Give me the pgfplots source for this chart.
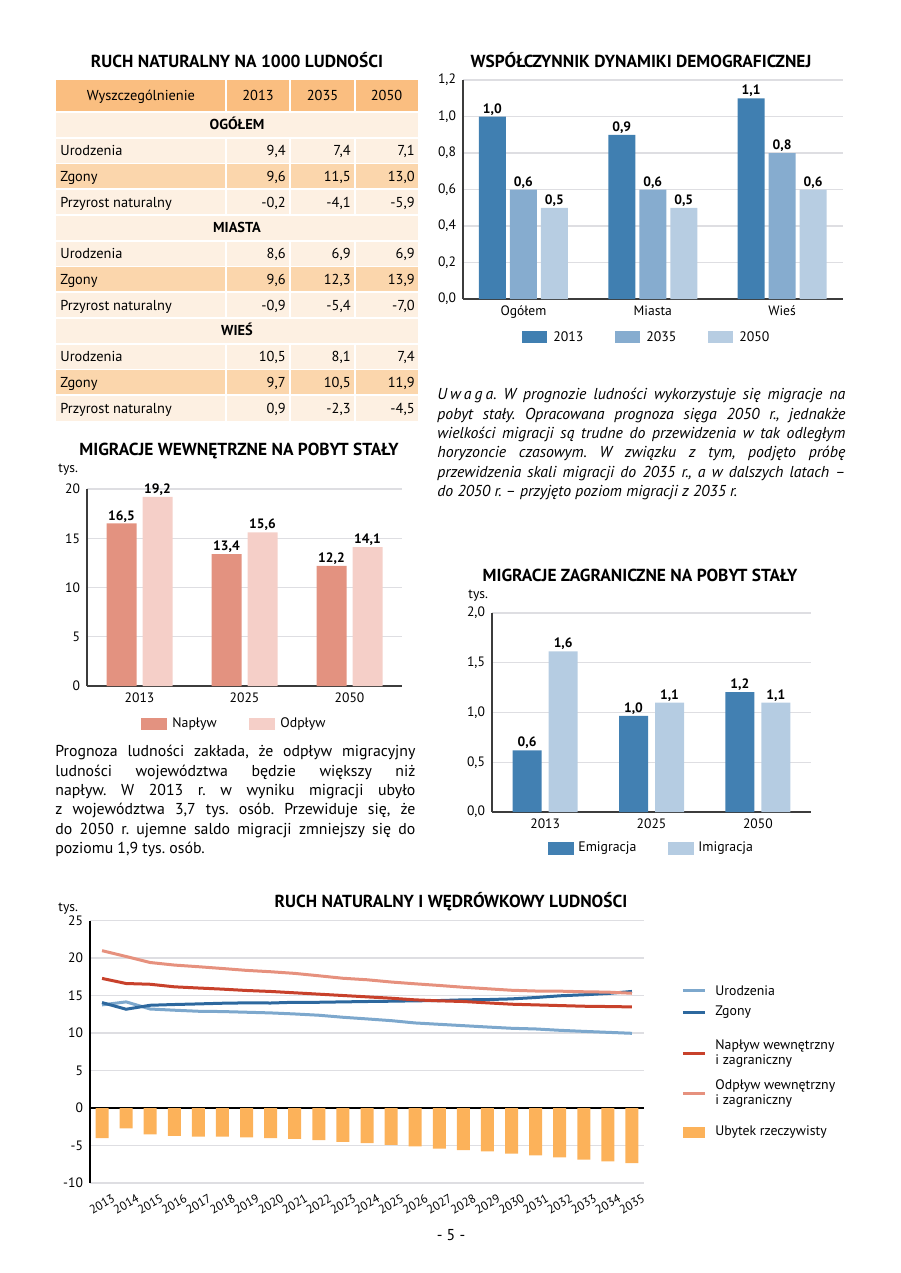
\documentclass[border=0pt]{standalone}
\usepackage{fontspec}
\setmainfont{PT Sans}
\usepackage{pgfplots}
\pgfplotsset{compat=1.18}
\frenchspacing
\definecolor{hdr}{RGB}{250,190,128}
\definecolor{rowl}{RGB}{253,240,226}
\definecolor{rowd}{RGB}{251,214,172}
\definecolor{bA}{RGB}{64,127,177}
\definecolor{bB}{RGB}{134,172,207}
\definecolor{bC}{RGB}{183,205,226}
\definecolor{napl}{RGB}{227,146,128}
\definecolor{odpl}{RGB}{245,207,200}
\definecolor{emig}{RGB}{66,128,178}
\definecolor{imig}{RGB}{181,204,226}
\definecolor{lUr}{RGB}{125,168,205}
\definecolor{lZg}{RGB}{45,104,158}
\definecolor{lNa}{RGB}{200,65,43}
\definecolor{lOd}{RGB}{230,145,126}
\definecolor{ubyt}{RGB}{252,178,90}
\definecolor{gridg}{RGB}{222,222,226}
\definecolor{axg}{RGB}{60,60,60}
\newcommand\ttl{\bfseries\fontsize{8.7}{9.5}\selectfont}
\newcommand\tbl{\fontsize{7.2}{8}\selectfont}
\newcommand\tck{\fontsize{6.8}{7.5}\selectfont}
\newcommand\tckx{\fontsize{6.1}{7}\selectfont}
\newcommand\lgd{\fontsize{6.9}{7.5}\selectfont}
\newcommand\val{\bfseries\fontsize{6.8}{7.5}\selectfont}
\newcommand\txt{\fontsize{7.9}{9.7}\selectfont}
\pgfplotsset{
  barax/.style={scale only axis, at={(0pt,0pt)}, anchor=south west,
    axis x line*=bottom, axis y line*=left,
    axis line style={axg, line width=0.9pt},
    ymajorgrids, grid style={gridg, line width=0.6pt},
    major tick length=0pt,
    tick label style={font=\tck, text=black},
    xtick=data, ybar,
    nodes near coords,
    every node near coord/.append style={font=\val, text=black, inner sep=0.5pt},
    /pgf/number format/use comma, /pgf/number format/fixed,
    /pgf/number format/fixed zerofill, /pgf/number format/precision=1,
    /pgf/number format/assume math mode=true,
    legend style={draw=none, fill=none, inner sep=0pt, row sep=0pt, column sep=0pt,
      nodes={inner sep=0pt, text depth=, text height=}, font=\lgd},
    legend cell align=left,
  }
}
\newcommand\trow[5]{%
  \node[font=\tbl, anchor=base west, inner sep=0pt] at (60,{-112-25.75*(#1+0.5)-5}) {#2};
  \node[font=\tbl, anchor=base east, inner sep=0pt] at (286,{-112-25.75*(#1+0.5)-5}) {#3};
  \node[font=\tbl, anchor=base east, inner sep=0pt] at (351,{-112-25.75*(#1+0.5)-5}) {#4};
  \node[font=\tbl, anchor=base east, inner sep=0pt] at (415,{-112-25.75*(#1+0.5)-5}) {#5};
}
\newcommand\tsec[2]{%
  \node[font=\tbl\bfseries, anchor=base, inner sep=0pt] at (237,{-112-25.75*(#1+0.5)-5}) {#2};
}
\begin{document}
\begin{tikzpicture}
\begin{scope}[x=0.5pt,y=0.5pt]
\path (0,0) rectangle (900,-1273);

% ---------------- TABLE ----------------
\node[font=\ttl, anchor=base, inner sep=0pt] at (237,-68) {RUCH NATURALNY NA 1000 LUDNOŚCI};
\fill[hdr] (56,-80) rectangle (418,-112);
\foreach \r/\c in {0/rowl,1/rowl,2/rowd,3/rowl,4/rowl,5/rowl,6/rowd,7/rowl,8/rowl,9/rowl,10/rowd,11/rowl}
  {\fill[\c] (56,{-112-25.75*\r}) rectangle (418,{-112-25.75*(\r+1)});}
\foreach \r in {0,...,11}
  {\draw[white, line width=0.9pt] (56,{-112-25.75*\r}) -- (418,{-112-25.75*\r});}
\foreach \xx in {226,290,355} {
  \draw[white, line width=1.1pt] (\xx,-80) -- (\xx,-112);
  \foreach \r in {1,2,3,5,6,7,9,10,11}
    {\draw[white, line width=1.1pt] (\xx,{-112-25.75*\r}) -- (\xx,{-112-25.75*(\r+1)});}
}
\node[font=\tbl, anchor=base, inner sep=0pt] at (141,-101) {Wyszczególnienie};
\node[font=\tbl, anchor=base, inner sep=0pt] at (258,-101) {2013};
\node[font=\tbl, anchor=base, inner sep=0pt] at (322.5,-101) {2035};
\node[font=\tbl, anchor=base, inner sep=0pt] at (386.5,-101) {2050};
\tsec{0}{OGÓŁEM}
\trow{1}{Urodzenia}{9,4}{7,4}{7,1}
\trow{2}{Zgony}{9,6}{11,5}{13,0}
\trow{3}{Przyrost naturalny}{-0,2}{-4,1}{-5,9}
\tsec{4}{MIASTA}
\trow{5}{Urodzenia}{8,6}{6,9}{6,9}
\trow{6}{Zgony}{9,6}{12,3}{13,9}
\trow{7}{Przyrost naturalny}{-0,9}{-5,4}{-7,0}
\tsec{8}{WIEŚ}
\trow{9}{Urodzenia}{10,5}{8,1}{7,4}
\trow{10}{Zgony}{9,7}{10,5}{11,9}
\trow{11}{Przyrost naturalny}{0,9}{-2,3}{-4,5}

% titles and texts
\node[font=\ttl, anchor=base, inner sep=0pt] at (641,-68) {WSPÓŁCZYNNIK DYNAMIKI DEMOGRAFICZNEJ};
\node[font=\ttl, anchor=base, inner sep=0pt] at (239,-455) {MIGRACJE WEWNĘTRZNE NA POBYT STAŁY};
\node[font=\tck, anchor=base west, inner sep=0pt] at (58,-472) {tys.};
\node[font=\ttl, anchor=base, inner sep=0pt] at (640,-581) {MIGRACJE ZAGRANICZNE NA POBYT STAŁY};
\node[font=\tck, anchor=base west, inner sep=0pt] at (468,-598) {tys.};
\node[font=\ttl, anchor=base, inner sep=0pt] at (451,-907) {RUCH NATURALNY I WĘDRÓWKOWY LUDNOŚCI};
\node[font=\tck, anchor=base west, inner sep=0pt] at (58,-911) {tys.};
\node[font=\txt, anchor=base, inner sep=0pt] at (451,-1240) {- 5 -};

\node[anchor=north west, inner sep=0pt, align=left, font=\itshape\txt] at (437,-388) {%
\makebox[204pt][s]{U\hspace{1.5pt}w\hspace{1.5pt}a\hspace{1.5pt}g\hspace{1.5pt}a. W prognozie ludności wykorzystuje się migracje na}\\
\makebox[204pt][s]{pobyt stały. Opracowana prognoza sięga 2050 r., jednakże}\\
\makebox[204pt][s]{wielkości migracji są trudne do przewidzenia w tak odległym}\\
\makebox[204pt][s]{horyzoncie czasowym. W związku z tym, podjęto próbę}\\
\makebox[204pt][s]{przewidzenia skali migracji do 2035 r., a w dalszych latach –}\\
do 2050 r. – przyjęto poziom migracji z 2035 r.};

\node[anchor=north west, inner sep=0pt, align=left, font=\txt] at (55,-745) {%
\makebox[180pt][s]{Prognoza ludności zakłada, że odpływ migracyjny}\\
\makebox[180pt][s]{ludności województwa będzie większy niż}\\
\makebox[180pt][s]{napływ. W 2013 r. w wyniku migracji ubyło}\\
\makebox[180pt][s]{z województwa 3,7 tys. osób. Przewiduje się, że}\\
\makebox[180pt][s]{do 2050 r. ujemne saldo migracji zmniejszy się do}\\
poziomu 1,9 tys. osób.};
\end{scope}

% ---------------- CHART 1 ----------------
\begin{scope}[shift={(231.5pt,-149.5pt)}]
\begin{axis}[barax, width=189.75pt, height=109.5pt,
  xmin=-0.467, xmax=2.467, ymin=0, ymax=1.2,
  ytick={0,0.2,0.4,0.6,0.8,1,1.2}, yticklabels={{0,0},{0,2},{0,4},{0,6},{0,8},{1,0},{1,2}},
  xticklabels={Ogółem,Miasta,Wieś},
  bar width=13.5pt, ybar=2pt,
  legend style={at={(0.1555,-0.1735)}, anchor=west}, legend columns=3]
\addplot[fill=bA, draw=none, legend image code/.code={\fill[bA] (0pt,-3pt) rectangle (12.5pt,3pt);}]
  coordinates {(0,1.0) (1,0.9) (2,1.1)};
\addlegendentry{\makebox[34pt][l]{\hspace{3pt}2013}}
\addplot[fill=bB, draw=none, legend image code/.code={\fill[bB] (0pt,-3pt) rectangle (12.5pt,3pt);}]
  coordinates {(0,0.6) (1,0.6) (2,0.8)};
\addlegendentry{\makebox[34pt][l]{\hspace{3pt}2035}}
\addplot[fill=bC, draw=none, legend image code/.code={\fill[bC] (0pt,-3pt) rectangle (12.5pt,3pt);}]
  coordinates {(0,0.5) (1,0.5) (2,0.6)};
\addlegendentry{\makebox[20pt][l]{\hspace{3pt}2050}}
\end{axis}
\end{scope}

% ---------------- CHART 3 ----------------
\begin{scope}[shift={(43.5pt,-343pt)}]
\begin{axis}[barax, width=157.5pt, height=98.5pt,
  xmin=-0.5, xmax=2.5, ymin=0, ymax=20,
  ytick={0,5,10,15,20}, yticklabels={0,5,10,15,20},
  xticklabels={2013,2025,2050},
  bar width=15pt, ybar=3pt,
  legend style={at={(0.1714,-0.193)}, anchor=west}, legend columns=2]
\addplot[fill=napl, draw=none, legend image code/.code={\fill[napl] (0pt,-3pt) rectangle (13pt,3pt);}]
  coordinates {(0,16.5) (1,13.4) (2,12.2)};
\addlegendentry{\makebox[41pt][l]{\hspace{2.5pt}Napływ}}
\addplot[fill=odpl, draw=none, legend image code/.code={\fill[odpl] (0pt,-3pt) rectangle (13pt,3pt);}]
  coordinates {(0,19.2) (1,15.6) (2,14.1)};
\addlegendentry{\makebox[30pt][l]{\hspace{2.5pt}Odpływ}}
\end{axis}
\end{scope}

% ---------------- CHART 4 ----------------
\begin{scope}[shift={(246pt,-406pt)}]
\begin{axis}[barax, width=159.5pt, height=99.5pt,
  xmin=-0.5, xmax=2.5, ymin=0, ymax=2,
  ytick={0,0.5,1,1.5,2}, yticklabels={{0,0},{0,5},{1,0},{1,5},{2,0}},
  xticklabels={2013,2025,2050},
  bar width=14.5pt, ybar=3.5pt,
  legend style={at={(0.1755,-0.181)}, anchor=west}, legend columns=2]
\addplot[fill=emig, draw=none, legend image code/.code={\fill[emig] (0pt,-3.25pt) rectangle (13pt,3.25pt);}]
  coordinates {(0,0.62) (1,0.965) (2,1.205)};
\addlegendentry{\makebox[47pt][l]{\hspace{2pt}Emigracja}}
\addplot[fill=imig, draw=none, legend image code/.code={\fill[imig] (0pt,-3.25pt) rectangle (13pt,3.25pt);}]
  coordinates {(0,1.615) (1,1.1) (2,1.1)};
\addlegendentry{\makebox[35pt][l]{\hspace{2pt}Imigracja}}
\end{axis}
\end{scope}

% ---------------- BOTTOM CHART ----------------
\begin{scope}[shift={(45pt,-591.5pt)}]
\begin{axis}[scale only axis, at={(0pt,0pt)}, anchor=south west, width=277pt, height=131.25pt,
  xmin=2012.5, xmax=2035.5, ymin=-10, ymax=25,
  axis x line*=bottom, axis y line*=left,
  x axis line style={gridg, line width=0.6pt},
  y axis line style={black, line width=0.8pt},
  ymajorgrids, grid style={gridg, line width=0.6pt},
  major tick length=0pt,
  tick label style={font=\tck, text=black},
  ytick={-10,-5,0,5,10,15,20,25}, yticklabels={-10,-5,0,5,10,15,20,25},
  extra y ticks={0}, extra y tick labels={},
  extra y tick style={grid=major, major grid style={black, line width=0.8pt}},
  xtick={2013,2014,2015,2016,2017,2018,2019,2020,2021,2022,2023,2024,2025,2026,2027,2028,2029,2030,2031,2032,2033,2034,2035},
  xticklabels={2013,2014,2015,2016,2017,2018,2019,2020,2021,2022,2023,2024,2025,2026,2027,2028,2029,2030,2031,2032,2033,2034,2035},
  xticklabel style={font=\tckx, inner sep=0pt, yshift=-10.5pt, rotate=30, anchor=center},
  legend style={at={(1.0668,0.762)}, anchor=north west, draw=none, fill=none, inner sep=0pt,
    row sep=0pt, column sep=4.5pt, nodes={inner sep=0pt, text depth=, text height=}, font=\lgd},
  legend cell align=left]
\addplot[lUr, line width=1.5pt, no marks, legend image code/.code={\draw[lUr, line width=1.5pt] (0pt,0pt) -- (11pt,0pt);}]
  table {
  x y
  2013 13.75
  2014 14.15
  2015 13.2
  2016 13.04
  2017 12.9
  2018 12.86
  2019 12.77
  2020 12.68
  2021 12.54
  2022 12.37
  2023 12.1
  2024 11.88
  2025 11.65
  2026 11.34
  2027 11.16
  2028 10.98
  2029 10.8
  2030 10.63
  2031 10.54
  2032 10.36
  2033 10.22
  2034 10.09
  2035 9.96
  };
\addlegendentry{\parbox[c][7pt][c]{80pt}{Urodzenia}}
\addplot[lZg, line width=1.5pt, no marks, legend image code/.code={\draw[lZg, line width=1.5pt] (0pt,0pt) -- (11pt,0pt);}]
  table {
  x y
  2013 14.06
  2014 13.17
  2015 13.7
  2016 13.8
  2017 13.88
  2018 13.97
  2019 14.02
  2020 14.0
  2021 14.1
  2022 14.1
  2023 14.15
  2024 14.2
  2025 14.24
  2026 14.29
  2027 14.33
  2028 14.42
  2029 14.46
  2030 14.55
  2031 14.73
  2032 14.96
  2033 15.1
  2034 15.27
  2035 15.54
  };
\addlegendentry{\parbox[c][15pt][c]{80pt}{Zgony}}
\addplot[lNa, line width=1.5pt, no marks, legend image code/.code={\draw[lNa, line width=1.5pt] (0pt,0pt) -- (11pt,0pt);}]
  table {
  x y
  2013 17.28
  2014 16.6
  2015 16.5
  2016 16.16
  2017 16.0
  2018 15.85
  2019 15.67
  2020 15.54
  2021 15.36
  2022 15.18
  2023 15.0
  2024 14.82
  2025 14.64
  2026 14.42
  2027 14.29
  2028 14.2
  2029 14.02
  2030 13.84
  2031 13.75
  2032 13.66
  2033 13.57
  2034 13.53
  2035 13.48
  };
\addlegendentry{\parbox[c][26pt][c]{80pt}{Napływ wewnętrzny\\i zagraniczny}}
\addplot[lOd, line width=1.5pt, no marks, legend image code/.code={\draw[lOd, line width=1.5pt] (0pt,0pt) -- (11pt,0pt);}]
  table {
  x y
  2013 20.98
  2014 20.2
  2015 19.4
  2016 19.06
  2017 18.84
  2018 18.6
  2019 18.35
  2020 18.17
  2021 17.95
  2022 17.63
  2023 17.3
  2024 17.1
  2025 16.8
  2026 16.56
  2027 16.34
  2028 16.1
  2029 15.9
  2030 15.7
  2031 15.6
  2032 15.58
  2033 15.5
  2034 15.45
  2035 15.3
  };
\addlegendentry{\parbox[c][14pt][c]{80pt}{Odpływ wewnętrzny\\i zagraniczny}}
\addplot[ybar, bar width=6.5pt, bar shift=0pt, fill=ubyt, draw=none,
  legend image code/.code={\fill[ubyt] (0pt,-2.75pt) rectangle (11pt,2.75pt);}]
  table {
  x y
  2013 -4.0
  2014 -2.7
  2015 -3.5
  2016 -3.7
  2017 -3.8
  2018 -3.8
  2019 -3.93
  2020 -4.0
  2021 -4.1
  2022 -4.29
  2023 -4.5
  2024 -4.69
  2025 -4.9
  2026 -5.13
  2027 -5.4
  2028 -5.6
  2029 -5.78
  2030 -6.07
  2031 -6.3
  2032 -6.57
  2033 -6.88
  2034 -7.1
  2035 -7.36
  };
\addlegendentry{\parbox[c][25pt][c]{80pt}{Ubytek rzeczywisty}}
\end{axis}
\end{scope}
\end{tikzpicture}
\end{document}
